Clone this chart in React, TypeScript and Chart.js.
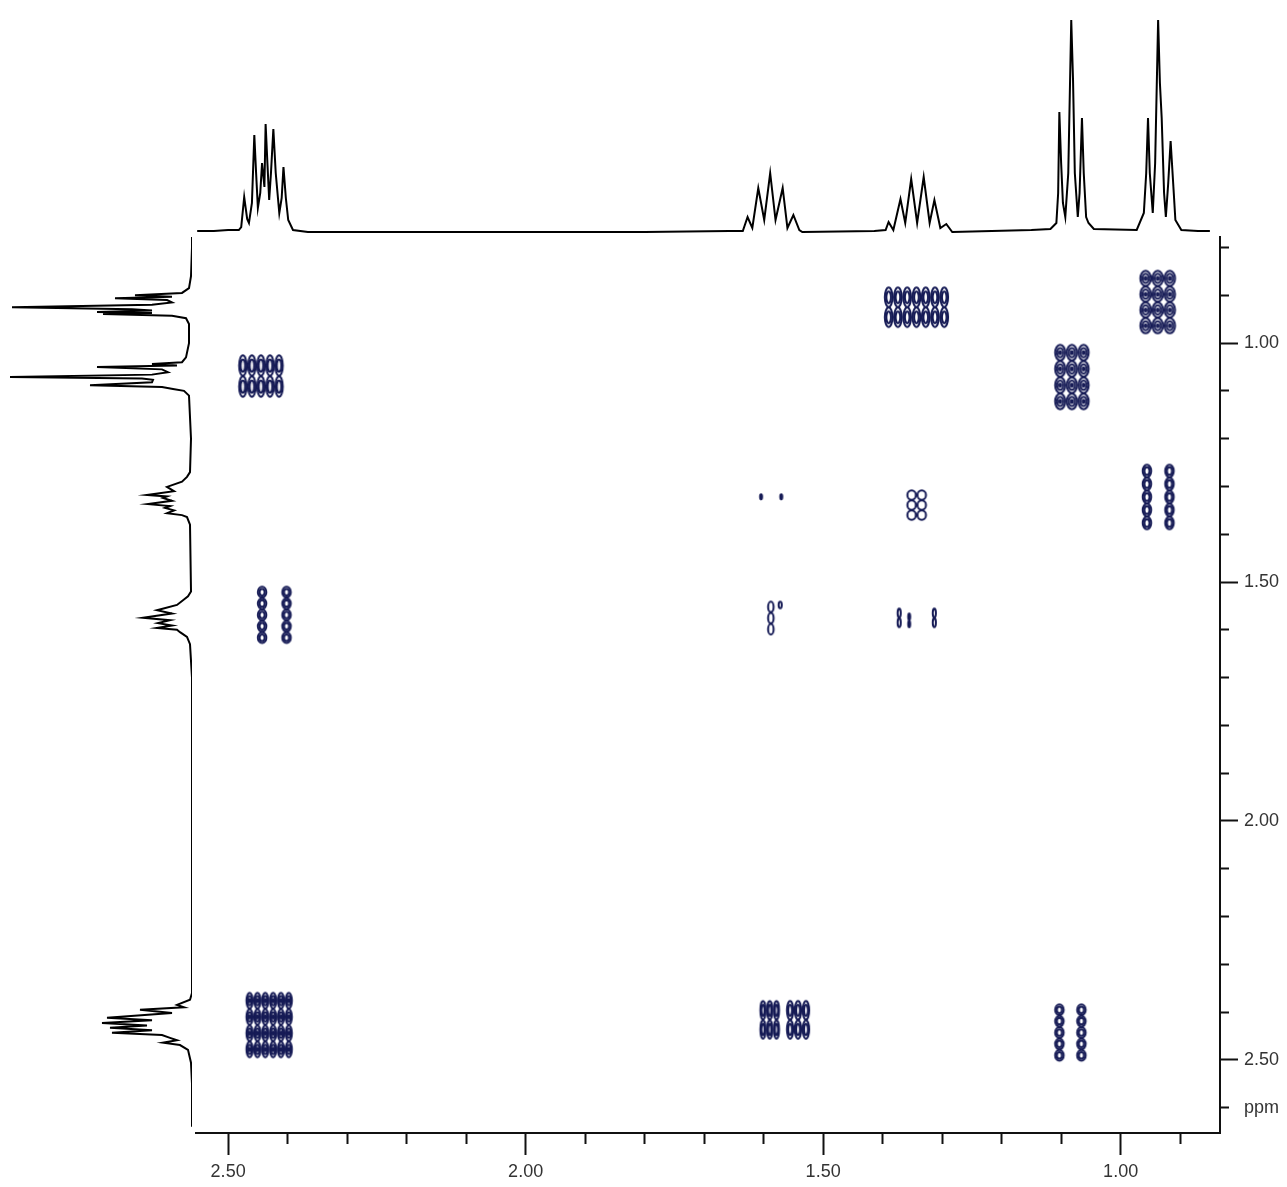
import { useEffect, useRef } from 'react';
import { Chart, registerables } from 'chart.js';

Chart.register(...registerables);

// ---------- axis ranges (ppm) ----------
const T2_MIN = 0.833;
const T2_MAX = 2.554;
const T1_MIN = 0.778;
const T1_MAX = 2.653;

// ---------- F2 (top) projection: ppm vs relative intensity ----------
const topPpm = [
  2.552, 2.524, 2.5, 2.482, 2.478, 2.473, 2.468, 2.465, 2.46, 2.456, 2.453, 2.45, 2.446, 2.443, 2.439, 2.437,
  2.434, 2.431, 2.428, 2.424, 2.42, 2.414, 2.41, 2.407, 2.403, 2.399, 2.391, 2.366, 2.0, 1.8, 1.658, 1.635,
  1.627, 1.619, 1.609, 1.599, 1.589, 1.58, 1.568, 1.56, 1.55, 1.54, 1.535, 1.414, 1.395, 1.39, 1.382, 1.37,
  1.362, 1.352, 1.342, 1.331, 1.321, 1.313, 1.303, 1.293, 1.283, 1.15, 1.118, 1.108, 1.105, 1.103, 1.1, 1.097,
  1.093, 1.088, 1.083, 1.08, 1.077, 1.072, 1.069, 1.065, 1.062, 1.058, 1.054, 1.045, 0.973, 0.961, 0.957, 0.954,
  0.951, 0.946, 0.942, 0.937, 0.934, 0.931, 0.927, 0.924, 0.92, 0.916, 0.911, 0.908, 0.898, 0.87, 0.85,
];
const topInt = [
  2, 2, 3, 3, 6, 36, 14, 10, 30, 98, 60, 25, 40, 70, 46, 109,
  70, 33, 60, 104, 60, 20, 35, 66, 35, 13, 3, 1, 1, 1, 2, 2,
  16, 5, 45, 13, 60, 13, 45, 5, 18, 3, 1, 2, 3, 11, 3, 34,
  10, 54, 10, 56, 10, 33, 5, 9, 1, 3, 4, 10, 40, 121, 70, 30,
  16, 60, 213, 153, 60, 16, 40, 115, 60, 16, 10, 4, 3, 20, 60, 115,
  60, 20, 70, 213, 150, 115, 40, 16, 50, 92, 43, 13, 3, 2, 2,
];

// ---------- F1 (left) projection: ppm vs relative intensity ----------
const leftPpm = [
  0.778, 0.8, 0.86, 0.885, 0.895, 0.9, 0.903, 0.906, 0.91, 0.915, 0.92, 0.925, 0.929, 0.932, 0.935, 0.937,
  0.939, 0.943, 0.948, 0.96, 1.0, 1.03, 1.04, 1.044, 1.047, 1.05, 1.055, 1.061, 1.066, 1.071, 1.074, 1.077,
  1.082, 1.088, 1.092, 1.096, 1.1, 1.11, 1.2, 1.27, 1.28, 1.29, 1.301, 1.31, 1.318, 1.321, 1.324, 1.33,
  1.337, 1.341, 1.345, 1.35, 1.356, 1.36, 1.364, 1.38, 1.52, 1.53, 1.538, 1.548, 1.559, 1.566, 1.575, 1.58,
  1.586, 1.591, 1.596, 1.6, 1.605, 1.615, 1.63, 1.7, 2.36, 2.374, 2.385, 2.39, 2.395, 2.402, 2.412, 2.417,
  2.423, 2.428, 2.433, 2.438, 2.443, 2.448, 2.454, 2.459, 2.464, 2.469, 2.479, 2.506, 2.55, 2.64,
];
const leftInt = [
  0, 0, 1, 3, 10, 57, 20, 77, 25, 20, 40, 180, 60, 40, 95, 40,
  89, 20, 6, 3, 3, 6, 10, 40, 15, 95, 30, 24, 40, 182, 50, 39,
  40, 102, 30, 19, 8, 3, 1, 2, 5, 10, 25, 18, 45, 25, 29, 20,
  44, 22, 27, 18, 25, 10, 5, 2, 1, 4, 9, 15, 35, 20, 49, 22,
  34, 20, 35, 15, 12, 5, 2, 0, 0, 2, 15, 8, 52, 20, 85, 40,
  90, 45, 82, 40, 80, 30, 22, 15, 29, 12, 4, 1, 0, 0,
];

// ---------- COSY cross / diagonal peaks ----------
const peakT2 = [1.343, 0.938, 2.445, 1.082, 1.604, 1.57, 1.343, 0.956, 0.918, 2.443, 2.402, 1.588, 1.572, 1.372, 1.355, 1.313, 2.431, 1.59, 1.542, 1.103, 1.066];
const peakT1 = [0.925, 0.914, 1.069, 1.071, 1.322, 1.322, 1.339, 1.322, 1.322, 1.569, 1.569, 1.575, 1.548, 1.575, 1.58, 1.575, 2.427, 2.416, 2.416, 2.443, 2.443];
const peakSpanT2 = [0.109, 0.061, 0.076, 0.059, 0.006, 0.006, 0.034, 0.017, 0.017, 0.017, 0.017, 0.012, 0.008, 0.008, 0.006, 0.008, 0.079, 0.034, 0.04, 0.017, 0.017];
const peakSpanT1 = [0.084, 0.132, 0.088, 0.136, 0.012, 0.012, 0.063, 0.136, 0.136, 0.119, 0.119, 0.07, 0.015, 0.04, 0.03, 0.04, 0.136, 0.08, 0.08, 0.119, 0.119];
const peakCols = [7, 3, 5, 3, 1, 1, 2, 1, 1, 1, 1, 1, 1, 1, 1, 1, 6, 3, 3, 1, 1];
const peakRows = [2, 4, 2, 4, 1, 1, 3, 5, 5, 5, 5, 3, 1, 2, 2, 2, 4, 2, 2, 5, 5];
const peakLevels = [2, 3, 2, 3, 1, 1, 1, 2, 2, 2, 2, 1, 1, 1, 1, 1, 3, 2, 2, 2, 2];

const NAVY = '#151a55';
const FONT = { family: "'Liberation Sans', Arial, sans-serif", size: 18 };

const blobCache = new Map<string, HTMLCanvasElement>();

function makeBlob(w: number, h: number, cols: number, rows: number, levels: number): HTMLCanvasElement {
  const key = `${Math.round(w)}-${Math.round(h)}-${cols}-${rows}-${levels}`;
  const hit = blobCache.get(key);
  if (hit) return hit;
  const c = document.createElement('canvas');
  const W = Math.max(4, Math.round(w) + 4);
  const H = Math.max(4, Math.round(h) + 4);
  c.width = W;
  c.height = H;
  const g = c.getContext('2d')!;
  g.strokeStyle = NAVY;
  g.lineWidth = 2;
  const colW = w / cols;
  const rowH = h / rows;
  for (let ci = 0; ci < cols; ci++) {
    const cx = 2 + colW * (ci + 0.5);
    for (let ri = 0; ri < rows; ri++) {
      const cy = 2 + rowH * (ri + 0.5);
      for (let l = 0; l < levels; l++) {
        const f = 1 - l * 0.4;
        const rx = Math.max(0.8, (colW / 2 - 0.8) * f);
        const ry = Math.max(0.8, (rowH / 2 - 0.3) * f);
        g.beginPath();
        g.ellipse(cx, cy, rx, ry, 0, 0, Math.PI * 2);
        g.stroke();
      }
    }
  }
  blobCache.set(key, c);
  return c;
}

const isMajor = (v: number) => Math.abs(v * 2 - Math.round(v * 2)) < 1e-6;

export default function App() {
  const mainRef = useRef<HTMLCanvasElement>(null);
  const topRef = useRef<HTMLCanvasElement>(null);
  const leftRef = useRef<HTMLCanvasElement>(null);

  useEffect(() => {
    const charts: Chart[] = [];

    // ---- main 2D chart ----
    charts.push(
      new Chart(mainRef.current!, {
        type: 'scatter',
        data: {
          datasets: [
            {
              data: peakT2.map((x, i) => ({ x, y: peakT1[i] })),
              pointRadius: 4,
              pointStyle: (ctx: any) => {
                const i = ctx.dataIndex;
                if (i === undefined || ctx.type !== 'data') return 'circle';
                const xs = ctx.chart.scales.x;
                const ys = ctx.chart.scales.y;
                const w = Math.abs(
                  xs.getPixelForValue(peakT2[i] + peakSpanT2[i] / 2) - xs.getPixelForValue(peakT2[i] - peakSpanT2[i] / 2)
                );
                const h = Math.abs(
                  ys.getPixelForValue(peakT1[i] + peakSpanT1[i] / 2) - ys.getPixelForValue(peakT1[i] - peakSpanT1[i] / 2)
                );
                return makeBlob(w, h, peakCols[i], peakRows[i], peakLevels[i]);
              },
            } as any,
          ],
        },
        options: {
          animation: false,
          responsive: false,
          events: [],
          layout: { padding: { left: 196, top: 237, right: 7, bottom: 9 } },
          plugins: { legend: { display: false }, tooltip: { enabled: false } },
          scales: {
            x: {
              type: 'linear',
              position: 'bottom',
              reverse: true,
              min: T2_MIN,
              max: T2_MAX,
              afterFit: (s: any) => {
                s.height = 45;
              },
              border: { display: true, color: '#111', width: 2 },
              grid: {
                display: true,
                drawOnChartArea: false,
                drawTicks: true,
                tickLength: 22,
                tickWidth: 2,
                tickColor: '#111',
                tickBorderDash: (c: any) => (c.tick && isMajor(c.tick.value) ? [] : [10, 100]),
              } as any,
              ticks: {
                stepSize: 0.1,
                autoSkip: false,
                maxRotation: 0,
                includeBounds: false,
                padding: 6,
                color: '#333',
                font: FONT,
                callback: (v: any) => (isMajor(Number(v)) ? Number(v).toFixed(2) : ''),
              },
            },
            y: {
              type: 'linear',
              position: 'right',
              reverse: true,
              min: T1_MIN,
              max: T1_MAX,
              afterFit: (s: any) => {
                s.width = 60;
              },
              border: { display: true, color: '#111', width: 2 },
              grid: {
                display: true,
                drawOnChartArea: false,
                drawTicks: true,
                tickLength: 18,
                tickWidth: 2,
                tickColor: '#111',
                tickBorderDash: (c: any) => (c.tick && isMajor(c.tick.value) ? [] : [8, 100]),
              } as any,
              ticks: {
                stepSize: 0.1,
                autoSkip: false,
                includeBounds: false,
                padding: 6,
                color: '#333',
                font: FONT,
                callback: (v: any) => {
                  const n = Number(v);
                  if (Math.abs(n - 2.6) < 1e-6) return 'ppm (t1)';
                  return isMajor(n) ? n.toFixed(2) : '';
                },
              },
            },
          },
        },
      } as any)
    );

    // ---- top projection ----
    charts.push(
      new Chart(topRef.current!, {
        type: 'scatter',
        data: {
          datasets: [
            {
              data: topPpm.map((x, i) => ({ x, y: topInt[i] })),
              showLine: true,
              pointRadius: 0,
              borderColor: '#000',
              borderWidth: 2,
              tension: 0,
            },
          ],
        },
        options: {
          animation: false,
          responsive: false,
          events: [],
          layout: { padding: { left: 196, right: 67, top: 10, bottom: 12 } },
          plugins: { legend: { display: false }, tooltip: { enabled: false } },
          scales: {
            x: { type: 'linear', display: false, reverse: true, min: T2_MIN, max: T2_MAX },
            y: { type: 'linear', display: false, min: 0, max: 223 },
          },
        },
      } as any)
    );

    // ---- left projection ----
    charts.push(
      new Chart(leftRef.current!, {
        type: 'scatter',
        data: {
          datasets: [
            {
              data: leftPpm.map((y, i) => ({ x: leftInt[i], y })),
              showLine: true,
              pointRadius: 0,
              borderColor: '#000',
              borderWidth: 2,
              tension: 0,
            },
          ],
        },
        options: {
          animation: false,
          responsive: false,
          events: [],
          layout: { padding: { left: 0, right: 8, top: 237, bottom: 54 } },
          plugins: { legend: { display: false }, tooltip: { enabled: false } },
          scales: {
            x: { type: 'linear', display: false, reverse: true, min: 0, max: 192 },
            y: { type: 'linear', display: false, reverse: true, min: T1_MIN, max: T1_MAX },
          },
        },
      } as any)
    );

    return () => charts.forEach((c) => c.destroy());
  }, []);

  const abs: any = { position: 'absolute', left: 0, top: 0 };
  return (
    <div style={{ position: 'absolute', left: 0, top: 0, width: 1287, height: 1187, overflow: 'hidden', background: '#fff' }}>
      <canvas ref={mainRef} width={1287} height={1187} style={{ ...abs, width: 1287, height: 1187 }} />
      <canvas ref={leftRef} width={200} height={1187} style={{ ...abs, width: 200, height: 1187 }} />
      <canvas ref={topRef} width={1287} height={245} style={{ ...abs, width: 1287, height: 245 }} />
    </div>
  );
}
